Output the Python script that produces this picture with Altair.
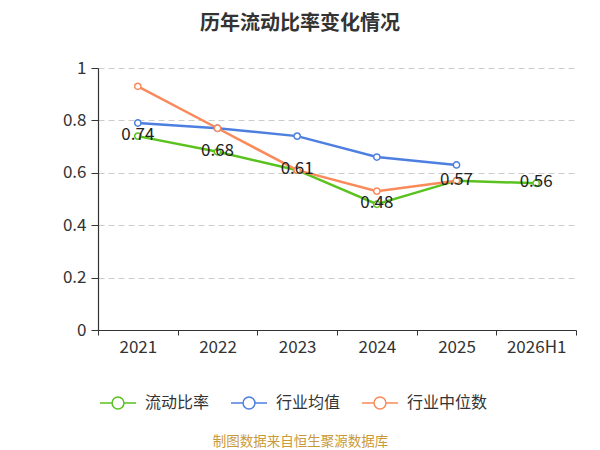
import altair as alt
import pandas as pd

years = ["2021", "2022", "2023", "2024", "2025", "2026H1"]
current_ratio = [0.74, 0.68, 0.61, 0.48, 0.57, 0.56]
industry_mean = [0.79, 0.77, 0.74, 0.66, 0.63]
industry_median = [0.93, 0.77, 0.61, 0.53, 0.57]

series_names = ["流动比率", "行业均值", "行业中位数"]
series_colors = ["#5ac21e", "#4d7fe0", "#fb8a5a"]

rows = []
for name, vals in zip(series_names, [current_ratio, industry_mean, industry_median]):
    for i, v in enumerate(vals):
        rows.append({"year": years[i], "series": name, "value": v, "order": series_names.index(name)})
df = pd.DataFrame(rows)

FONT = "Noto Sans CJK SC"

x = alt.X("year:N", sort=years,
          scale=alt.Scale(type="band", paddingInner=0, paddingOuter=0),
          axis=alt.Axis(title="制图数据来自恒生聚源数据库", titleColor="#c89a3a",
                        titleFontSize=13.5, titleFontWeight="normal", titleFont=FONT,
                        titleX=202, titleY=111, titleAlign="center", titleAnchor="middle",
                        titleBaseline="middle",
                        labelAngle=0, labelFontSize=17, labelColor="#333333", labelFont=FONT,
                        labelPadding=4, tickSize=5, tickColor="#333333", domainColor="#333333",
                        tickBand="extent", grid=False, domainWidth=1.2))
y = alt.Y("value:Q", scale=alt.Scale(domain=[0, 1], nice=False),
          axis=alt.Axis(title=None, values=[0, 0.2, 0.4, 0.6, 0.8, 1], format="~g",
                        labelFontSize=17, labelColor="#333333", labelFont=FONT,
                        tickSize=7, tickColor="#333333", domainColor="#333333", domainWidth=1.2,
                        labelPadding=5, grid=True, gridDash=[6, 4], gridColor="#cccccc"))
color = alt.Color("series:N",
                  scale=alt.Scale(domain=series_names, range=series_colors),
                  legend=alt.Legend(title=None, orient="none", direction="horizontal",
                                    legendX=1, legendY=316,
                                    symbolType="M-1,0L-0.33,0M0.33,0A0.33,0.33,0,1,1,-0.33,0A0.33,0.33,0,1,1,0.33,0M0.33,0L1,0",
                                    symbolSize=1296, symbolStrokeWidth=1.5, symbolFillColor="white",
                                    labelFontSize=16, labelColor="#333333", labelFont=FONT,
                                    labelOffset=8, columnPadding=18, padding=0))

lines = alt.Chart(df).mark_line(strokeWidth=2.5).encode(x=x, y=y, color=color, order="order:Q")
points = alt.Chart(df).mark_point(filled=False, fill="white", fillOpacity=1, size=40, strokeWidth=1.5, opacity=1).encode(
    x=x, y=y, color=alt.Color("series:N", scale=alt.Scale(domain=series_names, range=series_colors), legend=None))
labels = alt.Chart(df[df["series"] == "流动比率"]).mark_text(
    fontSize=17, font=FONT, color="#222222", baseline="middle", dy=-1).encode(
    x=x, y=y, text=alt.Text("value:Q", format=".2f"))

chart = alt.layer(lines, points, labels).properties(
    width=478, height=262,
    autosize=alt.AutoSizeParams(type="none"),
    padding={"left": 90, "top": 60, "right": 16, "bottom": 120},
    title=alt.TitleParams("历年流动比率变化情况", fontSize=20, font=FONT, fontWeight="bold",
                          color="#333333", anchor="middle", dx=-37, offset=25),
).configure_view(stroke=None)

chart.save("out.html", embed_options={"renderer": "svg", "actions": False})
